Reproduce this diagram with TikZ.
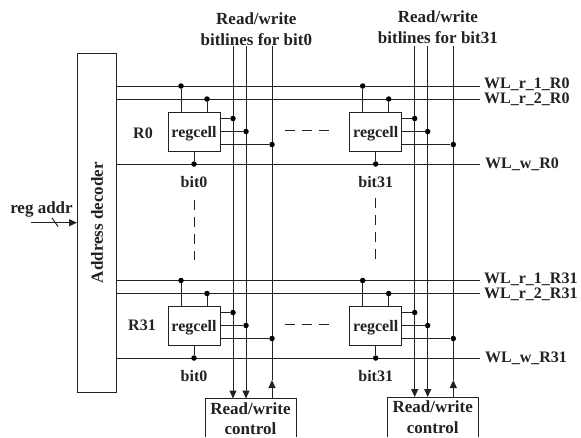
\documentclass[tikz,border=0pt]{standalone}
\usepackage{fontspec}
\setmainfont{Liberation Serif}
\usetikzlibrary{arrows.meta,positioning,calc}
\definecolor{lineink}{HTML}{222222}
\tikzset{
  wire/.style={draw=lineink,line width=1pt},
  tipwire/.style={wire,-{Triangle[length=8pt,width=7pt]}},
  gapwire/.style={wire,dash pattern=on 10pt off 7pt},
  cellbox/.style={draw=lineink,line width=1pt,fill=white,minimum width=52pt,minimum height=39pt,inner sep=0pt},
  joint/.style={circle,fill=black,inner sep=0pt,minimum size=5.5pt},
  txt/.style={inner sep=0pt,font=\fontsize{16}{20.5}\selectfont\bfseries,align=center,text=lineink},
  bigtxt/.style={txt,font=\fontsize{17}{20.5}\selectfont\bfseries},
}
\begin{document}
\begin{tikzpicture}[x=1pt,y=-1pt]
  \useasboundingbox (0,0) rectangle (581,437);
  \node[draw=lineink,line width=1pt,minimum width=39pt,minimum height=339pt,inner sep=0pt] (decoder) at (97,222.5) {};
  \node[bigtxt,rotate=90] (decodertxt) at (decoder.center) {Address decoder};
  % bitlines and their control boxes
  \foreach \c/\m/\w/\u/\xa/\xb/\xc/\top/\hy/\cy in {0/bit0/205/296/233/246/272/46/19/398.5, 31/bit31/387.5/478/414.7/427.7/453.3/46/17/397}{
    \coordinate (ct\c) at ({(\w+\u)/2},\cy);
    \node[bigtxt] (head\c) at ({(\xa+\xb+\xc)/3+6},{\hy+10}) {Read/write\\bitlines for \m};
    \coordinate (nw\c) at (\w,\cy);
    \coordinate (ne\c) at (\u,\cy);
    \coordinate (sw\c) at (\w,437);
    \coordinate (se\c) at (\u,437);
    \node[bigtxt] (ctrl\c) at ({(\w+\u)/2},{\cy+20}) {Read/write\\control};
    \draw[wire] (sw\c) -- (nw\c) -- (ne\c) -- (se\c);
    \coordinate (ba\c) at (\xa,\top);
    \coordinate (bb\c) at (\xb,\top);
    \coordinate (bc\c) at (\xc,\top);
    \coordinate (tip\c) at (\xc,380);
    \draw[tipwire] (ba\c) -- (ba\c |- nw\c);
    \draw[tipwire] (bb\c) -- (bb\c |- nw\c);
    \draw[tipwire] (bc\c |- nw\c) -- (tip\c);
    \draw[wire] (tip\c) -- (bc\c);
  }
  % wordlines and cells, one row at a time
  \foreach \r/\ya/\yb/\yw/\ycell/\xr/\yr in {0/86/99/164/131.5/143/133, 31/280.5/293.5/358/325.5/142/325}{
    \node[txt] (wla\r) at (484,{\ya-1.5}) [anchor=west] {WL\_r\_1\_R\r};
    \node[txt] (wlb\r) at (484,{\yb+0.5}) [anchor=west] {WL\_r\_2\_R\r};
    \node[txt] (wlw\r) at (485,\yw) [anchor=west] {WL\_w\_R\r};
    \coordinate (ea\r) at (480,\ya);
    \coordinate (eb\r) at (480,\yb);
    \coordinate (ew\r) at (480,\yw);
    \draw[wire] (decoder.east |- ea\r) -- (ea\r);
    \draw[wire] (decoder.east |- eb\r) -- (eb\r);
    \draw[wire] (decoder.east |- ew\r) -- (ew\r);
    \node[txt] (name\r) at (\xr,\yr) {R\r};
    \foreach \c/\m/\x/\xa/\xb/\xc in {0/bit0/194/233/246/272, 31/bit31/375.7/414.7/427.7/453.3}{
      \node[cellbox] (cell\r\c) at (\x,\ycell) {};
      \node[txt] (celltxt\r\c) at (\x,{\ycell+2}) {regcell};
      \node[joint] (ja\r\c) at ({\x-13},\ya) {};
      \node[joint] (jb\r\c) at ({\x+13},\yb) {};
      \node[joint] (jw\r\c) at (\x,\yw) {};
      \node[joint] (qa\r\c) at (\xa,{\ycell-13}) {};
      \node[joint] (qb\r\c) at (\xb,\ycell) {};
      \node[joint] (qc\r\c) at (\xc,{\ycell+13}) {};
      \draw[wire] (ja\r\c) -- (ja\r\c |- cell\r\c.north);
      \draw[wire] (jb\r\c) -- (jb\r\c |- cell\r\c.north);
      \draw[wire] (jw\r\c) -- (cell\r\c.south);
      \draw[wire] (qa\r\c) -- (cell\r\c.east |- qa\r\c);
      \draw[wire] (qb\r\c) -- (cell\r\c.east |- qb\r\c);
      \draw[wire] (qc\r\c) -- (cell\r\c.east |- qc\r\c);
      \node[txt] (bit\r\c) at (\x,{\yw+18}) {\m};
    }
    \draw[gapwire] ($(cell\r0.east)+(64,-1.5)$) -- ($(cell\r31.west)+(-16,-1.5)$);
  }
  \draw[gapwire] (194,200) -- (194,260);
  \draw[gapwire] (375.7,198) -- (375.7,259);
  % address input
  \node[bigtxt] (regaddr) at (41.5,209) {reg addr};
  \coordinate (addrin) at (31,222.7);
  \draw[tipwire] (addrin) -- (addrin -| decoder.west);
  \coordinate (ticka) at (52,218);
  \coordinate (tickb) at (58,226.5);
  \draw[wire] (ticka) -- (tickb);
\end{tikzpicture}
\end{document}
